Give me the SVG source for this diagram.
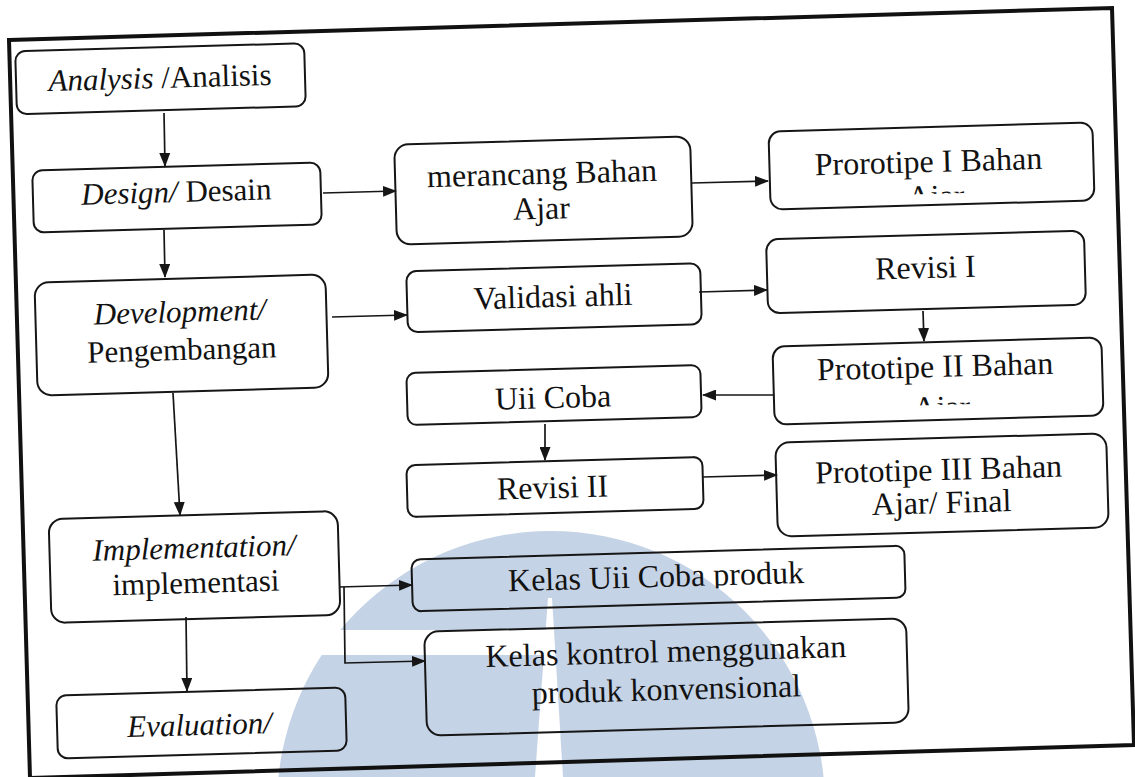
<svg xmlns="http://www.w3.org/2000/svg" width="1135" height="777" viewBox="0 0 1135 777">
<style>
.box{fill:none;stroke:#161616;stroke-width:2}
.t{font-family:"Liberation Serif","Times New Roman",serif;font-size:32px;fill:#121212;text-anchor:middle}
.l{font-size:31px}
.i{font-style:italic}
.conn{fill:none;stroke:#161616;stroke-width:1.7;marker-end:url(#ah)}
</style>
<defs>
<marker id="ah" markerWidth="14" markerHeight="11" refX="13" refY="5.5" orient="auto" markerUnits="userSpaceOnUse"><path d="M0,0 L14,5.5 L0,11 Z" fill="#161616"/></marker>
<clipPath id="clipP1" clipPathUnits="userSpaceOnUse"><rect x="769" y="127" width="325" height="67"/></clipPath>
<clipPath id="clipP2" clipPathUnits="userSpaceOnUse"><rect x="773" y="342" width="330" height="63"/></clipPath>
<clipPath id="clipK1" clipPathUnits="userSpaceOnUse"><rect x="412" y="552" width="493" height="38"/></clipPath>
</defs>
<rect width="1135" height="777" fill="#ffffff"/>
<g id="watermark">
<circle cx="551" cy="805" r="274" fill="#c5d3e6"/>
<rect x="250" y="630" width="297" height="25" fill="#ffffff"/>
<polygon points="548,598 552,598 563,777 535,777" fill="#ffffff"/>
</g>
<polygon id="frame" points="9,40 1112,8 1134,745 30,778" fill="none" stroke="#111" stroke-width="4"/>
<g id="connectors">
<path class="conn" d="M164,113 L165,166"/>
<path class="conn" d="M164,230 L165,277"/>
<path class="conn" d="M323,193 L396,191"/>
<path class="conn" d="M692,183 L768,181"/>
<path class="conn" d="M332,317 L407,315"/>
<path class="conn" d="M699,292 L767,290"/>
<path class="conn" d="M923,311 L924,341"/>
<path class="conn" d="M773,395 L703,395"/>
<path class="conn" d="M545,424 L545,460"/>
<path class="conn" d="M703,477 L777,475"/>
<path class="conn" d="M173,393 L180,515"/>
<path class="conn" d="M339,587 L412,585"/>
<path class="conn" d="M344,587 L345,663 L425,661"/>
<path class="conn" d="M186,617 L187,691"/>
</g>
<g id="n-analysis" transform="rotate(-1.6 160.5 78.75)">
<rect class="box" x="16" y="47.25" width="289" height="63" rx="10"/>
<text class="t l" x="160" y="88"><tspan class="i">Analysis</tspan> /Analisis</text>
</g>
<g id="n-design" transform="rotate(-1.6 177 197.5)">
<rect class="box" x="33" y="166.5" width="288" height="62" rx="10"/>
<text class="t l" x="176.5" y="202"><tspan class="i">Design/</tspan> Desain</text>
</g>
<g id="n-development" transform="rotate(-1.6 181.5 335)">
<rect class="box" x="36" y="278.5" width="291" height="113" rx="14"/>
<text class="t l i" x="180.5" y="322">Development/</text>
<text class="t l" x="181.5" y="360">Pengembangan</text>
</g>
<g id="n-merancang" transform="rotate(-1.6 543.5 190.5)">
<rect class="box" x="395.5" y="140.5" width="296" height="100" rx="14"/>
<text class="t" x="542.5" y="184">merancang Bahan</text>
<text class="t" x="541" y="219">Ajar</text>
</g>
<g id="n-prototipe1" transform="rotate(-1.6 931.5 166)">
<rect class="box" x="769.5" y="127" width="324" height="78" rx="12"/>
<text class="t" x="928.5" y="172">Prorotipe I Bahan</text>
<text class="t" x="935" y="207" clip-path="url(#clipP1)">Ajar</text>
</g>
<g id="n-validasi" transform="rotate(-1.6 554 297.75)">
<rect class="box" x="407" y="267.25" width="294" height="61" rx="10"/>
<text class="t" x="553" y="307">Validasi ahli</text>
</g>
<g id="n-revisi1" transform="rotate(-1.6 926 272)">
<rect class="box" x="767" y="235" width="318" height="74" rx="12"/>
<text class="t" x="925.5" y="278">Revisi I</text>
</g>
<g id="n-prototipe2" transform="rotate(-1.6 938 381)">
<rect class="box" x="773.5" y="342" width="329" height="78" rx="12"/>
<text class="t" x="935.5" y="377">Prototipe II Bahan</text>
<text class="t" x="941" y="418" clip-path="url(#clipP2)">Ajar</text>
</g>
<g id="n-ujicoba" transform="rotate(-1.6 554 395)">
<rect class="box" x="407" y="369" width="294" height="52" rx="9"/>
<text class="t" x="553" y="408">Uii Coba</text>
</g>
<g id="n-revisi2" transform="rotate(-1.6 555 487)">
<rect class="box" x="407" y="461" width="296" height="52" rx="9"/>
<text class="t" x="552.5" y="498">Revisi II</text>
</g>
<g id="n-prototipe3" transform="rotate(-1.6 942 485)">
<rect class="box" x="776.5" y="438" width="331" height="94" rx="14"/>
<text class="t" x="939" y="480">Prototipe III Bahan</text>
<text class="t" x="941" y="513">Ajar/ Final</text>
</g>
<g id="n-implementation" transform="rotate(-1.6 194.5 567)">
<rect class="box" x="50" y="515" width="289" height="104" rx="14"/>
<text class="t l i" x="194.5" y="558">Implementation/</text>
<text class="t l" x="195.5" y="593">implementasi</text>
</g>
<g id="n-evaluation" transform="rotate(-1.6 201.5 723)">
<rect class="box" x="57" y="691.5" width="289" height="63" rx="10"/>
<text class="t l i" x="199.5" y="735">Evaluation/</text>
</g>
<g id="n-kelasuji" transform="rotate(-1.6 658.5 578.5)">
<rect class="box" x="412" y="552.5" width="493" height="52" rx="9"/>
<text class="t" x="656" y="587" clip-path="url(#clipK1)">Kelas Uii Coba produk</text>
</g>
<g id="n-kelaskontrol" transform="rotate(-1.6 666.5 677)">
<rect class="box" x="425.5" y="625" width="482" height="104" rx="14"/>
<text class="t" x="666.5" y="662">Kelas kontrol menggunakan</text>
<text class="t" x="666" y="700">produk konvensional</text>
</g>
</svg>
